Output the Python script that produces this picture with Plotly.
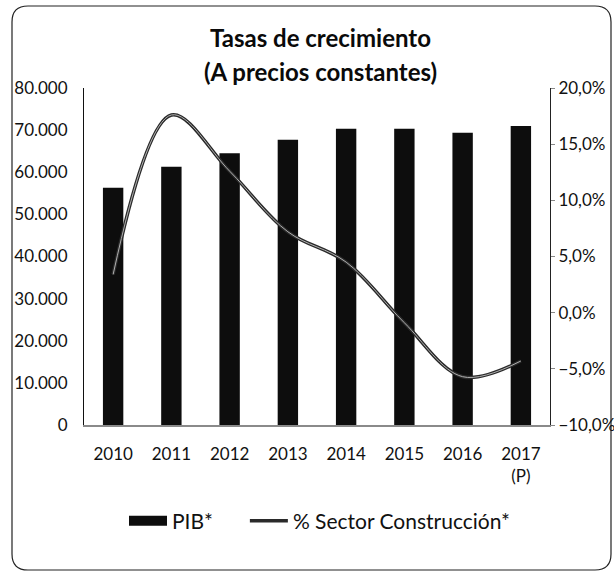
import plotly.graph_objects as go

years = ["2010", "2011", "2012", "2013", "2014", "2015", "2016", "2017<br>(P)"]
pib = [56300, 61300, 64500, 67700, 70300, 70300, 69400, 71000]
construccion = [0.034, 0.176, 0.126, 0.072, 0.045, -0.009, -0.057, -0.043]

W, H = 614, 573
L, R, T, B = 84, 64, 88, 148
pw, ph = W - L - R, H - T - B

def px(x):
    return (x - L) / pw

def py(y):
    return (H - B - y) / ph

FONT = "Lato"
TICK = 17
NB = "\u00a0"

fig = go.Figure()
fig.add_trace(go.Bar(
    x=years, y=pib, name="PIB*", marker=dict(color="#0d0d0d", line=dict(width=0)),
    yaxis="y", showlegend=False,
))
# legend entry for the bars (wide black box like the reference)
fig.add_trace(go.Scatter(
    x=[None], y=[None], name="PIB*" + NB * 5, mode="lines",
    line=dict(color="#0d0d0d", width=12), yaxis="y",
))
fig.add_trace(go.Scatter(
    x=years, y=construccion, name="% Sector Construcción*", mode="lines",
    line=dict(color="#2a2a2a", width=3.5, shape="spline", smoothing=1.0),
    yaxis="y2",
))
fig.add_trace(go.Scatter(
    x=years, y=construccion, showlegend=False, mode="lines",
    line=dict(color="#b0b0b0", width=1, shape="spline", smoothing=1.0),
    yaxis="y2", hoverinfo="skip",
))

# rounded border
x0, x1, y0, y1, r = 12, 611, 6, 570, 16
path = (f"M {px(x0+r)},{py(y0)} L {px(x1-r)},{py(y0)} "
        f"Q {px(x1)},{py(y0)} {px(x1)},{py(y0+r)} "
        f"L {px(x1)},{py(y1-r)} Q {px(x1)},{py(y1)} {px(x1-r)},{py(y1)} "
        f"L {px(x0+r)},{py(y1)} Q {px(x0)},{py(y1)} {px(x0)},{py(y1-r)} "
        f"L {px(x0)},{py(y0+r)} Q {px(x0)},{py(y0)} {px(x0+r)},{py(y0)} Z")

title_font = dict(family=FONT, size=24, color="#0a0a0a")

fig.update_layout(
    width=W, height=H,
    margin=dict(l=L, r=R, t=T, b=B, autoexpand=False),
    paper_bgcolor="white", plot_bgcolor="white",
    separators=",.",
    font=dict(family=FONT, size=TICK, color="#111"),
    bargap=0.65,
    showlegend=True,
    legend=dict(
        orientation="h", x=px(124), xanchor="left", y=py(521), yanchor="middle",
        font=dict(family=FONT, size=21, color="#111"), itemwidth=38,
        traceorder="normal", bgcolor="rgba(0,0,0,0)", itemclick=False,
    ),
    xaxis=dict(
        type="category", showgrid=False, showline=True, linecolor="#8a8a8a", linewidth=1.5,
        ticks="", tickfont=dict(family=FONT, size=TICK, color="#111"), zeroline=False,
        ticklabelstandoff=13,
    ),
    yaxis=dict(
        range=[0, 80000], dtick=10000, tickformat=",.0f", showgrid=False, zeroline=False,
        showline=True, linecolor="#111", linewidth=1, ticks="", ticklabelstandoff=12,
        tickfont=dict(family=FONT, size=TICK, color="#111"),
    ),
    yaxis2=dict(
        range=[-0.10, 0.20], dtick=0.05, tickformat=".1%", overlaying="y", side="right",
        showgrid=False, zeroline=False, showline=True, linecolor="#222", linewidth=1,
        ticks="outside", ticklen=4, tickcolor="#888",
        tickfont=dict(family=FONT, size=TICK, color="#111"),
    ),
    annotations=[
        dict(text="<b>Tasas de crecimiento</b>", xref="paper", yref="paper",
             x=px(320), y=py(37), xanchor="center", yanchor="middle",
             showarrow=False, font=title_font),
        dict(text="<b>(A precios constantes)</b>", xref="paper", yref="paper",
             x=px(320), y=py(72), xanchor="center", yanchor="middle",
             showarrow=False, font=title_font),
    ],
    shapes=[dict(type="path", path=path, xref="paper", yref="paper",
                 line=dict(color="#222", width=1.2), layer="below")],
)

fig.write_html("out.html", config={"displayModeBar": False},
               post_script="document.body.style.margin='0';document.body.style.overflow='hidden';")
